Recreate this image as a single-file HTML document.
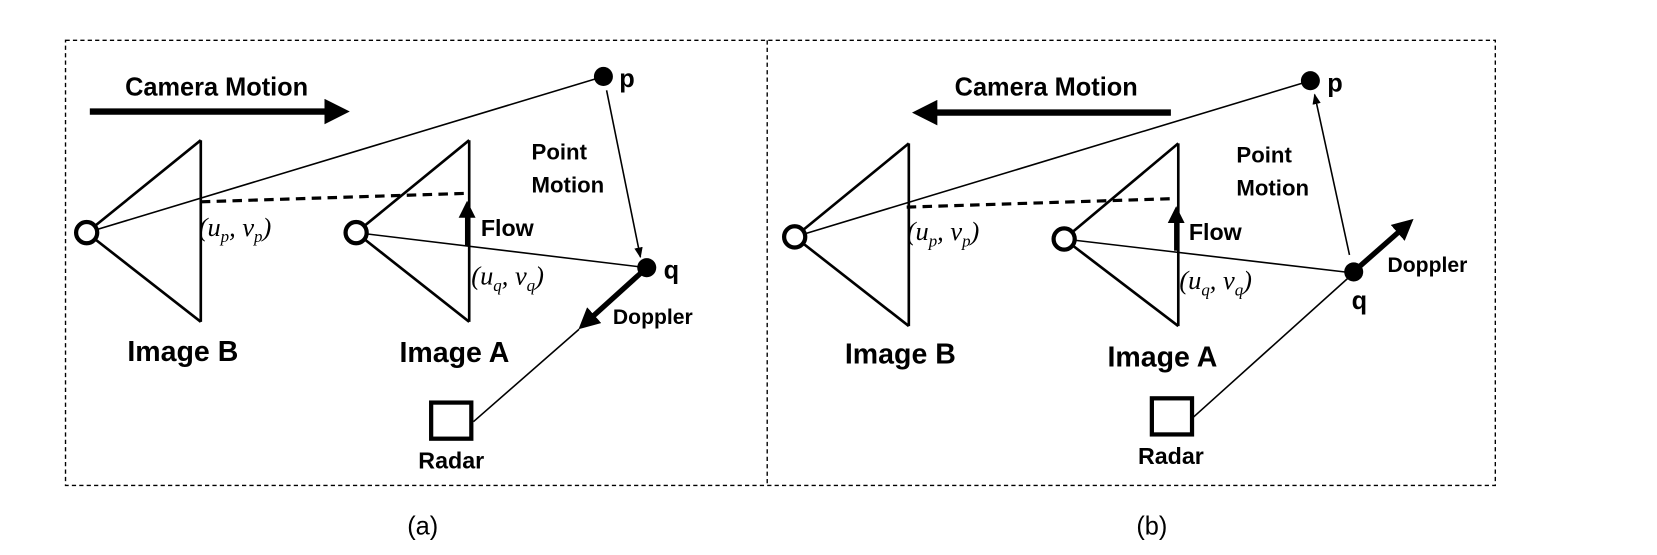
<!DOCTYPE html>
<html><head><style>
html,body{margin:0;padding:0;background:#fff;width:1657px;height:555px;overflow:hidden}
svg{display:block}
.b{font-family:"Liberation Sans",sans-serif;font-weight:bold;fill:#000}
.m{font-family:"Liberation Serif",serif;font-style:italic;fill:#000;font-size:25px}
</style></head><body>
<svg width="1657" height="555" viewBox="0 0 1568 522.5" preserveAspectRatio="none">
<defs>
<marker id="ah" markerWidth="4" markerHeight="4" refX="2.5" refY="2" orient="auto" markerUnits="strokeWidth"><path d="M0,0 L4,2 L0,4 z" fill="#000"/></marker>
<marker id="ahs" markerWidth="10" markerHeight="8" refX="9" refY="4" orient="auto" markerUnits="userSpaceOnUse"><path d="M0,0 L10,4 L0,8 z" fill="#000"/></marker>
</defs>
<g fill="none" stroke="#000">
<rect x="62" y="38" width="1353" height="419" stroke-width="1.3" stroke-dasharray="4,3"/>
<line x1="726" y1="38" x2="726" y2="457" stroke-width="1.3" stroke-dasharray="4,3"/>
<line x1="85" y1="105" x2="322" y2="105" stroke-width="6" marker-end="url(#ah)"/>
<line x1="190" y1="132" x2="190" y2="303" stroke-width="2.5"/>
<line x1="82" y1="219" x2="190" y2="132" stroke-width="2.5"/>
<line x1="82" y1="219" x2="190" y2="303" stroke-width="2.5"/>
<line x1="82" y1="219" x2="571" y2="72" stroke-width="1.5"/>
<line x1="190" y1="190" x2="442" y2="182" stroke-width="3" stroke-dasharray="9,6"/>
<line x1="444" y1="132" x2="444" y2="303" stroke-width="2.5"/>
<line x1="337" y1="219" x2="444" y2="132" stroke-width="2.5"/>
<line x1="337" y1="219" x2="444" y2="303" stroke-width="2.5"/>
<line x1="442" y1="232" x2="442" y2="195" stroke-width="4" marker-end="url(#ah)"/>
<line x1="337" y1="219" x2="612" y2="252" stroke-width="1.5"/>
<line x1="574" y1="85" x2="606" y2="242" stroke-width="1.5" marker-end="url(#ahs)"/>
<line x1="612" y1="252" x2="553" y2="305" stroke-width="5" marker-end="url(#ah)"/>
<line x1="448" y1="397" x2="548" y2="310" stroke-width="1.5"/>
<rect x="408" y="379" width="38" height="34" stroke-width="4"/>
<circle cx="82" cy="219" r="10" stroke-width="4" fill="#fff"/>
<circle cx="337" cy="219" r="10" stroke-width="4" fill="#fff"/>
<line x1="1108" y1="106" x2="872" y2="106" stroke-width="6" marker-end="url(#ah)"/>
<line x1="860" y1="135" x2="860" y2="307" stroke-width="2.5"/>
<line x1="752" y1="223" x2="860" y2="135" stroke-width="2.5"/>
<line x1="752" y1="223" x2="860" y2="307" stroke-width="2.5"/>
<line x1="752" y1="223" x2="1240" y2="76" stroke-width="1.5"/>
<line x1="858" y1="195" x2="1110" y2="187" stroke-width="3" stroke-dasharray="9,6"/>
<line x1="1115" y1="135" x2="1115" y2="307" stroke-width="2.5"/>
<line x1="1007" y1="225" x2="1115" y2="135" stroke-width="2.5"/>
<line x1="1007" y1="225" x2="1115" y2="307" stroke-width="2.5"/>
<line x1="1113" y1="236" x2="1113" y2="200" stroke-width="4" marker-end="url(#ah)"/>
<line x1="1007" y1="225" x2="1281" y2="257" stroke-width="1.5"/>
<line x1="1277" y1="240" x2="1244" y2="89" stroke-width="1.5" marker-end="url(#ahs)"/>
<line x1="1283" y1="254" x2="1332" y2="211" stroke-width="5" marker-end="url(#ah)"/>
<line x1="1129" y1="393" x2="1281" y2="257" stroke-width="1.5"/>
<rect x="1090" y="375" width="38" height="34" stroke-width="4"/>
<circle cx="752" cy="223" r="10" stroke-width="4" fill="#fff"/>
<circle cx="1007" cy="225" r="10" stroke-width="4" fill="#fff"/>
</g>
<circle cx="571" cy="72" r="9" fill="#000"/>
<circle cx="612" cy="252" r="9" fill="#000"/>
<circle cx="1240" cy="76" r="9" fill="#000"/>
<circle cx="1281" cy="256" r="9" fill="#000"/>
<g class="b">
<text x="205" y="90" font-size="24" text-anchor="middle">Camera Motion</text>
<text x="990" y="90" font-size="24" text-anchor="middle">Camera Motion</text>
<text x="173" y="340" font-size="27" text-anchor="middle">Image B</text>
<text x="430" y="341" font-size="27" text-anchor="middle">Image A</text>
<text x="852" y="342" font-size="27" text-anchor="middle">Image B</text>
<text x="1100" y="345" font-size="27" text-anchor="middle">Image A</text>
<text x="427" y="441" font-size="22" text-anchor="middle">Radar</text>
<text x="1108" y="437" font-size="22" text-anchor="middle">Radar</text>
<text x="586" y="82" font-size="24">p</text>
<text x="1256" y="86" font-size="24">p</text>
<text x="628" y="262" font-size="24">q</text>
<text x="1279" y="291" font-size="24">q</text>
<text x="455" y="222" font-size="22">Flow</text>
<text x="1125" y="226" font-size="22">Flow</text>
<text x="503" y="150" font-size="21">Point</text>
<text x="503" y="181" font-size="21">Motion</text>
<text x="1170" y="153" font-size="21">Point</text>
<text x="1170" y="184" font-size="21">Motion</text>
<text x="580" y="305" font-size="20">Doppler</text>
<text x="1313" y="256" font-size="20">Doppler</text>
</g>
<g class="m">
<text x="188" y="222">(<tspan>u</tspan><tspan font-size="16" dy="6">p</tspan><tspan dy="-6">, v</tspan><tspan font-size="16" dy="6">p</tspan><tspan dy="-6">)</tspan></text>
<text x="446" y="268">(<tspan>u</tspan><tspan font-size="16" dy="6">q</tspan><tspan dy="-6">, v</tspan><tspan font-size="16" dy="6">q</tspan><tspan dy="-6">)</tspan></text>
<text x="858" y="226">(<tspan>u</tspan><tspan font-size="16" dy="6">p</tspan><tspan dy="-6">, v</tspan><tspan font-size="16" dy="6">p</tspan><tspan dy="-6">)</tspan></text>
<text x="1116" y="272">(<tspan>u</tspan><tspan font-size="16" dy="6">q</tspan><tspan dy="-6">, v</tspan><tspan font-size="16" dy="6">q</tspan><tspan dy="-6">)</tspan></text>
</g>
<text x="400" y="503" font-family="Liberation Sans,sans-serif" font-size="24" text-anchor="middle">(a)</text>
<text x="1090" y="503" font-family="Liberation Sans,sans-serif" font-size="24" text-anchor="middle">(b)</text>
</svg>
</body></html>
